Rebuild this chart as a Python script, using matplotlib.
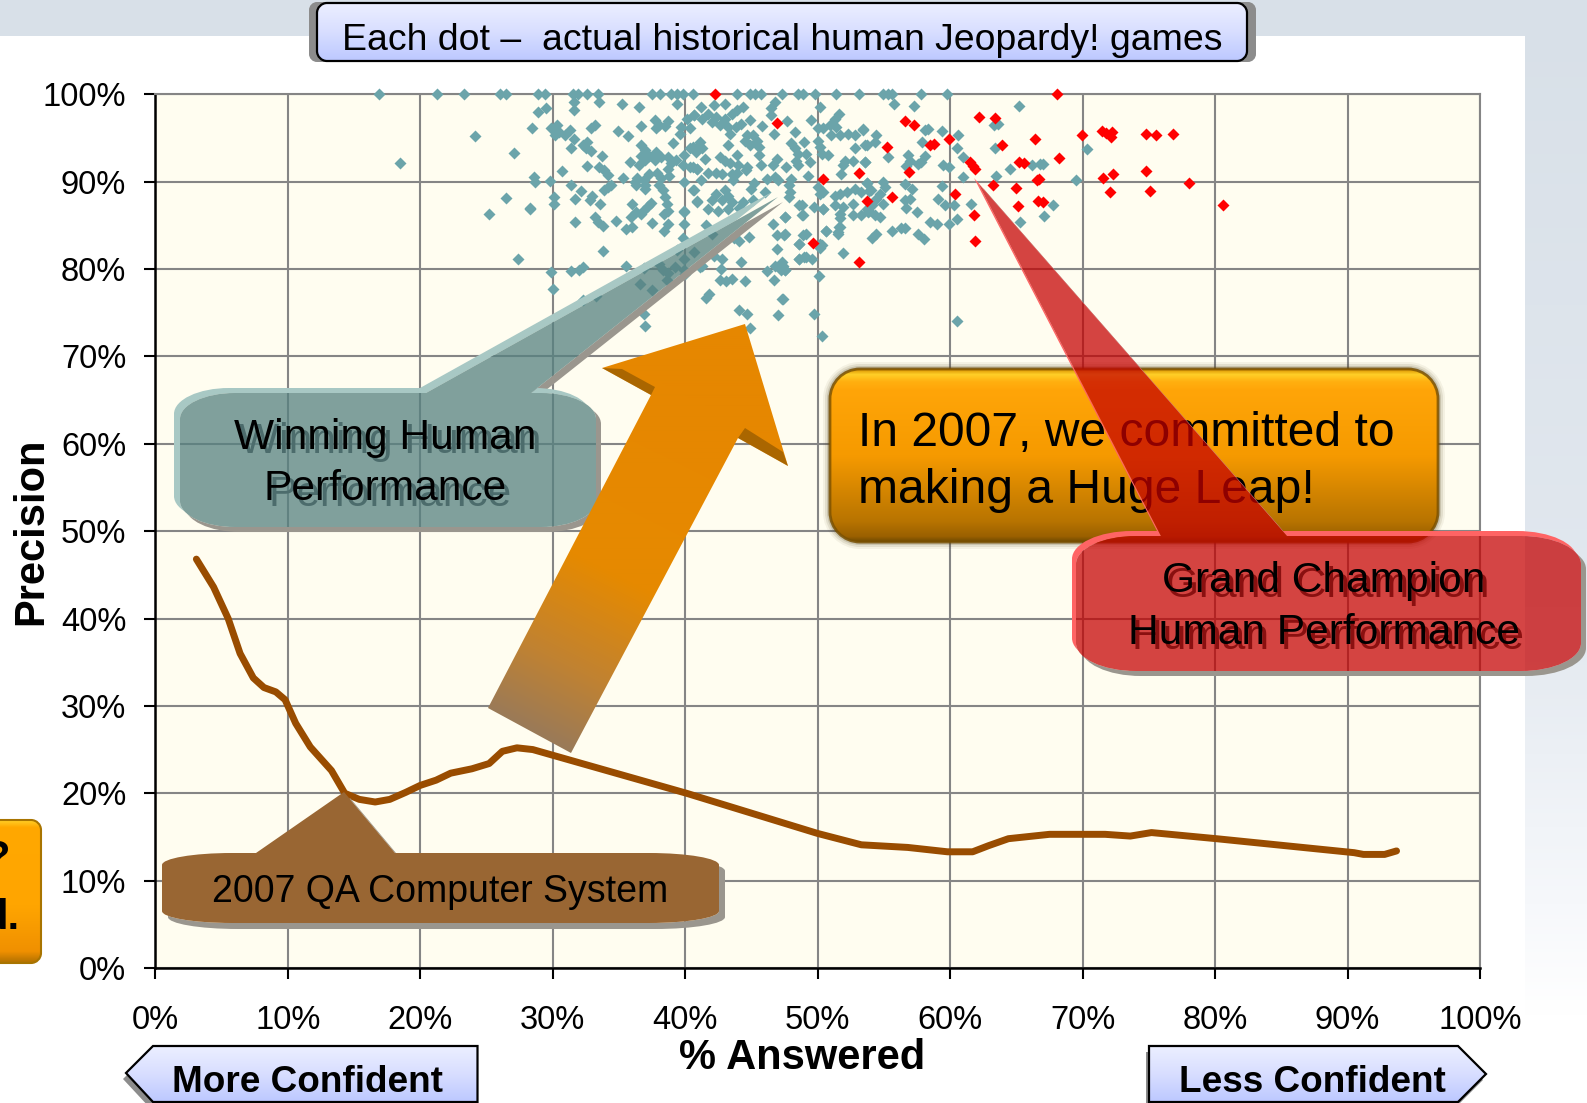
import numpy as np
import matplotlib
matplotlib.use("Agg")
import matplotlib.pyplot as plt
from matplotlib.path import Path
from matplotlib.patches import PathPatch, Rectangle
from matplotlib.colors import to_rgb

plt.rcParams['font.family'] = ['Liberation Sans', 'DejaVu Sans']

# ---------- data (percent) ----------
ticks = list(range(0, 101, 10))
tick_labels = [f"{t}%" for t in ticks]

curve_answered = [3.1,4.4,5.5,6.4,7.4,8.2,9.1,9.8,10.6,11.7,13.3,14.3,15.4,16.6,17.7,18.9,20,21.2,22.3,23.9,25.2,26.2,27.3,28.5,40.1,50,53.3,56.8,59.8,61.7,62.9,64.4,67.5,71.7,73.6,75.2,80.1,90.5,91.2,92.8,93.7]
curve_precision = [46.8,43.6,40,36,33.2,32.1,31.6,30.7,28,25.3,22.6,20,19.3,19,19.3,20.1,20.9,21.5,22.3,22.8,23.4,24.8,25.2,25,20,15.4,14.1,13.8,13.3,13.3,14,14.8,15.3,15.3,15.1,15.5,14.8,13.2,13,13,13.4]

winning_top_x = [16.9,21.3,23.3,26,26.5,28.9,29.4,31.5,31.9,32.6,33.4,37.5,38.1,38.9,39.4,39.8,40.6,43.9,44.9,45.3,45.7,47.3,48.5,48.9,49.8,51.4,53.1,54.9,55.3,55.6,57.8,59.8]

winning_left = [(31.6,99.1),(31.6,98.2),(33.5,99.1),(29.5,98.4),(28.9,98),(35.2,98.9),(36.5,98.5),(39.4,98.9),
 (28.4,96.1),(29.9,96.1),(30.3,96.5),(30.5,95.7),(30.2,95.3),(30.9,95.3),(31.3,95.9),(31.6,94.9),(33.2,96.5),(32.9,96.1),(34.9,95.8),(35.7,95.2),(36.7,96.4),(37.7,97.1),(37.8,96.1),(38,96.5),(38.7,96.9),(38.5,96.4),(39.7,96.3),(39.6,95.5),(39.1,94.4),(40.1,97.2),(40.7,97.6),(40.4,96.1),
 (31.4,93.8),(32.3,94.2),(32.6,94.5),(32.5,93.8),(32.9,93.5),(33.7,92.9),(32.6,91.8),(33.5,91.7),(33.9,91.3),(34.2,90.8),(30.7,91.2),(35.8,92.3),
 (36.7,94.2),(37,93.6),(36.7,92.9),(37.3,92.9),(37.8,93.4),(37.7,92.5),(36.5,91.9),(37,92.5),(38.2,92.8),(38.7,92.8),(38.9,92.1),(39.3,92.5),(39.9,93),(40.4,93.8),(40.9,94),(39.8,91.9),(40.4,91.7),(40.9,91.5),(38.7,91.5),(37.3,90.9),(37.9,91),(38.2,90.4),(38.8,90.7),(36.4,90.4),(36.9,90.2),(35.3,90.4),(28.6,90.5),(28.7,90),(29.8,90.1),(39.9,90),
 (31.4,89.6),(32.1,88.9),(31.7,88),(32.8,87.9),(33,88.4),(33.6,87.4),(34.2,89.4),(33.9,89),(34.4,89.6),(36.3,89.6),(36.2,90),(37,89.6),(37,89.2),(38,89.6),(38.3,89),(38.5,88.3),(38.6,87.5),(38.7,86.7),(36,87.5),(36.3,86.5),(36.8,86.7),(37.4,87.6),(37.2,87.2),(40.6,89.1),(40.9,87.8),(39.9,86.6),(30.1,88.3),(30.1,87.5),(28.3,86.9),
 (24.1,95.2),(18.5,92.1),(27.1,93.3),(26.5,88.1),(25.2,86.3),(28.3,87),(27.4,81.2)]

winning_low_left = [(31.7,85.4),(33.2,86),(33.4,85.4),(33.8,84.9),(34.8,85.5),(35.5,84.6),(36,84.8),(35.9,86),(36.7,86.3),(37.5,85.3),(38.4,86.3),(38.7,85.2),(38.4,84.4),(39.9,85.1),(39.9,86.5),(39.8,83.5),(39.4,82.2),(40.7,82),(33.8,82.1),(35.5,80.4),(36.9,80.1),(38,80.6),(38.3,79.9),(38.7,79.5),(39.2,80.2),(39.9,81.2),(41.1,80.2),(29.9,79.7),(31.4,79.8),(32,79.9),(32.3,80.2),(30,77.7),(32.3,76.5),(33.3,76.9),(36.6,78.3),(37.5,77.6),(40,79.4),(36.9,74.8),(37,73.5),(38.6,78.7),(39.9,79.9)]

winning_mid = [(42.2,98.8),(43,98.9),(41.2,98.5),(46.8,99.1),(46.5,98.4),(46.5,97.6),(44.4,98.5),(43.9,98.2),(40.7,97.6),(41.7,97.8),(41.3,97.2),(42,96.8),(42.3,97.4),(43,97.2),(43.5,97.8),(42.6,96.5),(43.2,96.3),(43.8,96.3),(44.2,96.6),(44.9,97.1),(45.8,96.4),(47.7,97),(43.4,95.4),(46.7,95.5),(48.3,95.7),(49.5,97.1),(50.2,98.6),
 (44.7,95.3),(45.1,95.3),(45.4,94.7),(44.5,94.7),(44.9,94.2),(45.6,94),(43.2,94.2),(45.6,93.1),(41.1,94.5),(40.6,94),(41.3,93.8),(40.8,93.4),(41.5,92.6),(42.6,92.8),(43,92.4),(43.9,93),(43.4,92.1),(44,91.9),(44.7,91.7),(45.7,91.9),(46.9,92.6),(46.6,91.9),(47.6,91.7),(48,94.4),(48.3,93.8),(48.5,93.2),(48.4,92.4),(48.5,91.9),(49,94.5),(49.1,93.2),(49.4,92.2),(50,96.1),(50.4,96.1),(50.9,96.5),(51.3,97.2),(51.6,97.7),(51.4,96.3),(51,95.3),(51.7,95.3),(52.3,95.4),(52.8,95.3),(53.4,96),(53.7,94.2),(52.8,93.8),(50,94.7),(50.2,94),(50.3,93.2),(50.8,93),(53.6,92.3),(52.1,92.4),(52.7,92.4),(51.9,91.9),(51.8,90.9),(40.6,91.7),(40.9,91.5),(41.7,91),(42.3,91),(42.8,90.9),(43.5,90.9),(43.9,91),(44.6,91.3),(43.6,90.2),(41.2,90.2),(46.8,90.5),(47,90.2),(46.2,90.3),(48,90.3),(49.3,90.7),(45.2,89.8),(50,89.4),(50.4,88.8),(50.2,88.6),(53.7,89.8),(47.8,89.6),(47.9,88.8),(47.8,88.3),(46,88.8),(45,89.2),(45.1,87.9),(44.4,87.7),(40.7,89.1),(40.9,87.7),(42.3,88.6),(43,89),(43.2,88.4),(42,87.9),(42.8,87.9),(43.5,87.7),(41.7,86.9),(42.5,86.7),(43.2,86.9),(44.1,87),(51.3,88.4),(51.7,88.6),(52.2,88.8),(52.8,89.2),(53.3,88.8),(54,89),(52.7,87.5),(51.9,87.1),(51.3,87.3),(53.7,86.9),(48.6,87.3),(49.7,87.1),(50.4,86.9)]

winning_right = [(55.8,98.9),(57.3,98.7),(65.2,98.7),(63.3,96.5),(63.6,96.6),(53.4,95.9),(54.4,95.3),(54.3,94.5),(53.6,94.2),(55.3,92.8),(53.6,92.3),(58.1,95.9),(58.3,96),(59.4,95.8),(60.6,95.3),(57.9,94.5),(60.5,93.8),(63.4,93.9),(56.8,93),(57,92.4),(56.7,91.8),(58.1,92.9),(57.8,92.3),(57.6,92),(59.5,91.9),(59.9,91.7),(61,92.8),(64.5,91.5),(63.5,90.7),(61,90.5),(66.2,91.9),(66.8,92),
 (53.7,89.8),(53.9,88.9),(54.9,90),(55.1,89.4),(54.7,88.6),(54.4,88),(54.9,87.5),(56.6,89.7),(57.1,89.2),(59.4,89.5),(56.6,87.9),(57,88),(56.7,87),(57.5,86.5),(59.1,88),(59.6,87.3),(60.3,87.3),(61.6,87.5),(54.1,87.3),(53.8,86.5),
 (67,92),(67.8,87.3),(67.1,86.1),(65.3,85.4),(69.5,90.2),(70.3,93.7),(58.5,85.4),(59,85.2),(59.9,85.1),(60.5,85.7),(56.3,84.7),(56.6,84.7),(55.6,84.3),(54.4,84),(54.1,83.5),(57.6,84),(58,83.4),(51.9,81.8),(50.6,84.4),(51.6,84.8),(51.5,84),(48.9,83.9),(48.6,82.9),(50.2,82.9),(50.2,82.4),(48.6,81.2),(49.1,81.4),(49.6,81.1),(50.1,79.2),(47.4,76.6),(49.7,74.8),(50.3,72.3),(60.5,74.1),(47.45,83.9),(47.5,86),(48.8,87.3),(48.9,86.2),(50.4,86.9),(51.7,86.3),(51.7,85.8),(52.7,86.2),(53.3,86.2),(53.9,86.7),(54.7,86),(54.3,86.2),(47.25,79.9),(47.4,80.3),(47.5,79.9)]

winning_low_mid = [(41.6,85),(42,84),(43.7,83.5),(44.1,83.2),(44.8,83.7),(46.6,85.2),(47.5,86),(48.8,86.2),(46.9,83.9),(47.5,84),(46.9,82.3),(49.1,84),(48.6,82.9),(50.3,82.7),(50.6,84.4),(51.5,84.2),(51.7,84.8),(42.8,81.2),(42.2,81.5),(44.2,80.8),(41.3,80.4),(42.7,80),(47.3,80.8),(46.8,80.3),(46.2,79.8),(47.5,79.9),(48.6,81.1),(49,81.4),(46.7,78.8),(42.6,78.7),(43.1,78.6),(43.5,78.9),(44.5,78.6),(41.6,76.7),(41.8,77.2),(47.3,76.6),(44.1,75.3),(44.7,74.8),(47,74.7),(44.9,73.3)]

champion_games = [(68.08,100),(42.25,100),(46.9,96.7),(62.15,97.4),(63.39,97.3),(56.6,97),(57.26,96.5),(69.92,95.3),(71.5,95.8),(71.76,95.6),(72.2,95.7),(72.16,95.1),(74.8,95.4),(75.54,95.3),(76.83,95.4),(66.44,94.9),(63.94,94.2),(59.91,94.85),(55.2,94),(58.5,94.2),(58.77,94.3),(68.2,92.75),(61.52,92.2),(61.72,91.75),(61.9,91.5),(65.2,92.25),(65.6,92.1),(53.1,91),(56.9,91.15),(74.8,91.26),(50.4,90.35),(72.3,90.9),(71.55,90.45),(66.7,90.35),(66.54,90.15),(78.04,89.85),(63.2,89.6),(65,89.25),(72.1,88.86),(75.06,88.98),(60.36,88.6),(53.7,87.8),(55.6,88.2),(66.6,87.8),(67,87.7),(65.1,87.2),(80.63,87.34),(61.8,86.2),(49.65,83.03),(61.9,83.25),(53.1,80.8)]

# ---------- figure ----------
W, H = 1587, 1103
fig = plt.figure(figsize=(W/100, H/100), dpi=100, facecolor='white')

def lerp_stops(t, stops):
    ps = [s[0] for s in stops]
    cs = np.array([to_rgb(s[1]) for s in stops])
    return np.stack([np.interp(t, ps, cs[:, i]) for i in range(3)], axis=-1)

def make_ax(z):
    a = fig.add_axes([0, 0, 1, 1], zorder=z)
    a.set_xlim(0, W); a.set_ylim(H, 0); a.axis('off'); a.patch.set_alpha(0)
    a.set_autoscale_on(False)
    return a

bg = make_ax(0)
bg.add_patch(Rectangle((0, 0), W, 35.5, color='#D8E0E8', lw=0))
ys = np.linspace(0, 1, 300)[:, None]
bg.imshow(lerp_stops(ys, [(0, '#D8E0E8'), (.55, '#E2E8EF'), (.82, '#F6F8FB'), (.92, '#FFFFFF'), (1, '#FFFFFF')]).reshape(300, 1, 3),
          extent=[1525, W, H, 0], aspect='auto', zorder=1)
bg.set_xlim(0, W); bg.set_ylim(H, 0)

# chart axes
x0p, x1p, y100, y0p = 155.3, 1480, 94.3, 968
ax = fig.add_axes([x0p/W, 1-y0p/H, (x1p-x0p)/W, (y0p-y100)/H], zorder=2)
ax.set_facecolor('#FFFDF0')
ax.set_xlim(0, 100); ax.set_ylim(0, 100)
ax.set_xticks(ticks); ax.set_yticks(ticks)
ax.set_xticklabels(tick_labels, fontsize=23.5); ax.set_yticklabels(tick_labels, fontsize=23.5)
ax.grid(True, color='#858585', lw=1.5, zorder=1)
ax.set_axisbelow(True)
ax.tick_params(axis='x', length=8, width=1.5, pad=18.5, color='black')
ax.tick_params(axis='y', length=8, width=1.5, pad=13, color='black')
for s in ('top', 'right'):
    ax.spines[s].set_color('#858585'); ax.spines[s].set_linewidth(1.5)
for s in ('left', 'bottom'):
    ax.spines[s].set_color('black'); ax.spines[s].set_linewidth(1.8)
ax.set_xlabel('% Answered', fontsize=30, fontweight='bold', va='center')
ax.xaxis.set_label_coords((802.6-x0p)/(x1p-x0p), -(1058-y0p)/(y0p-y100))
ax.set_ylabel('Precision', fontsize=30, fontweight='bold', va='center')
ax.yaxis.set_label_coords((31-x0p)/(x1p-x0p), (y0p-531)/(y0p-y100))

teal = np.array([(x, 100) for x in winning_top_x] + winning_left + winning_low_left + winning_mid + winning_right + winning_low_mid)
red = np.array(champion_games)
ax.plot(teal[:, 0], teal[:, 1], ls='', marker='D', ms=6.4, mfc='#6BA4AA', mec='none', clip_on=False, zorder=3)
ax.plot(red[:, 0], red[:, 1], ls='', marker='D', ms=6.4, mfc='#FF0000', mec='none', clip_on=False, zorder=4)
ax.plot(curve_answered, curve_precision, color='#994C00', lw=5, solid_capstyle='round', solid_joinstyle='round', zorder=5)

# ---------- overlay shapes ----------
ov = make_ax(5)
K = 0.5523

def bubble(x0, y0, x1, y1, rx, ry, tip=None, a=None, b=None):
    V = [(x0+rx, y0)]; C = [Path.MOVETO]
    if tip is not None:
        V += [(a, y0), tip, (b, y0)]; C += [Path.LINETO]*3
    V += [(x1-rx, y0)]; C += [Path.LINETO]
    V += [(x1-rx+K*rx, y0), (x1, y0+ry-K*ry), (x1, y0+ry)]; C += [Path.CURVE4]*3
    V += [(x1, y1-ry)]; C += [Path.LINETO]
    V += [(x1, y1-ry+K*ry), (x1-rx+K*rx, y1), (x1-rx, y1)]; C += [Path.CURVE4]*3
    V += [(x0+rx, y1)]; C += [Path.LINETO]
    V += [(x0+rx-K*rx, y1), (x0, y1-ry+K*ry), (x0, y1-ry)]; C += [Path.CURVE4]*3
    V += [(x0, y0+ry)]; C += [Path.LINETO]
    V += [(x0, y0+ry-K*ry), (x0+rx-K*rx, y0), (x0+rx, y0)]; C += [Path.CURVE4]*3
    return Path(V, C)

def shifted(path, dx, dy):
    return Path(path.vertices + np.array([dx, dy]), path.codes)

def outside_clip(main):
    v = main.vertices
    area = 0.5*np.sum(v[:-1, 0]*v[1:, 1]-v[1:, 0]*v[:-1, 1])
    rect = [(-50, -50), (W+50, -50), (W+50, H+50), (-50, H+50)]
    if area > 0:
        rect = rect[::-1]
    outer = Path(rect+[rect[0]], [Path.MOVETO, Path.LINETO, Path.LINETO, Path.LINETO, Path.CLOSEPOLY])
    return Path.make_compound_path(outer, main)

def callout(main, color, alpha, hi=None, hi_off=(0, 0), sh='#9A968E', sh_off=(5, 5), z=1):
    clip = PathPatch(outside_clip(main), transform=ov.transData)
    if sh:
        p = PathPatch(shifted(main, *sh_off), fc=sh, ec='none', zorder=z)
        ov.add_patch(p); p.set_clip_path(clip)
    if hi:
        p = PathPatch(shifted(main, *hi_off), fc=hi, ec='none', zorder=z)
        ov.add_patch(p); p.set_clip_path(clip)
    ov.add_patch(PathPatch(main, fc=color, alpha=alpha, ec='none', zorder=z+.1))

def grad(path, stops, p0, p1, z):
    vv = path.vertices
    x0, y0 = vv.min(axis=0); x1, y1 = vv.max(axis=0)
    gx, gy = np.meshgrid(np.linspace(x0, x1, 300), np.linspace(y0, y1, 300))
    d = np.array(p1)-np.array(p0)
    t = ((gx-p0[0])*d[0]+(gy-p0[1])*d[1])/(d @ d)
    im = ov.imshow(lerp_stops(np.clip(t, 0, 1), stops), extent=[x0, x1, y1, y0], aspect='auto', zorder=z, interpolation='bilinear')
    im.set_clip_path(PathPatch(path, transform=ov.transData))
    ov.set_xlim(0, W); ov.set_ylim(H, 0)

def stext(x, y, s, fs, shadow, off=(4, 5), **kw):
    if shadow:
        ov.text(x+off[0], y+off[1], s, fontsize=fs, color=shadow, ha='center', va='center', zorder=kw.get('zorder', 20)-.5)
    ov.text(x, y, s, fontsize=fs, color='black', ha='center', va='center', zorder=kw.get('zorder', 20))

# teal callout
teal_main = bubble(180, 393, 596, 527, 55, 26, tip=(778, 197), a=426, b=531)
callout(teal_main, '#568180', .75, hi='#A8C8C4', hi_off=(-6, -5), sh='#9A968E', sh_off=(5, 5), z=1)
stext(385, 437.5, 'Winning Human', 30.6, '#4C6C6C', off=(5, 5))
stext(385, 488.5, 'Performance', 30.6, '#4C6C6C', off=(5, 6))

# brown callout
brown_main = bubble(162, 853, 719, 923, 70, 12, tip=(344, 792), a=256, b=395)
callout(brown_main, '#996633', 1, sh='#9A968E', sh_off=(6, 6), z=2)
stext(440, 892, '2007 QA Computer System', 27, None)

# big arrow
arrow = Path([(488, 708), (571, 753), (738, 438), (788, 466), (745, 324), (602, 368), (651, 395), (488, 708)],
             [Path.MOVETO]+[Path.LINETO]*6+[Path.CLOSEPOLY])
grad(arrow, [(0, '#E68700'), (.52, '#E68A00'), (.8, '#C08232'), (1, '#9A7A58')], (694, 400), (530, 730), 3)
for pts in ([(602, 368), (651, 395), (655, 387), (622, 369)], [(738, 438), (788, 466), (783, 452), (745, 428)]):
    ov.add_patch(plt.Polygon(pts, fc='#7A4C00', ec='none', alpha=.55, zorder=3.1))

# orange box
ob = bubble(830, 369, 1438, 542, 30, 30)
for grow, al in ((7, .06), (5, .1), (3, .16), (1.5, .25)):
    ov.add_patch(PathPatch(bubble(830-grow, 369-grow, 1438+grow, 542+grow, 30+grow, 30+grow), fc='#4A3A10', ec='none', alpha=al, zorder=4))
grad(ob, [(0, '#D89000'), (.03, '#FFD028'), (.07, '#FFB010'), (.12, '#FFA508'), (.5, '#F69A00'), (.88, '#B87400'), (.97, '#9A6000'), (1, '#6E4A00')], (0, 369), (0, 542), 5)
ov.add_patch(PathPatch(ob, fc='none', ec='#7A5000', lw=2, alpha=.8, zorder=5.1))
ov.text(858, 434, 'In 2007, we committed to', fontsize=34.6, color='black', ha='left', va='center', zorder=5.2)
ov.text(858, 490.5, 'making a Huge Leap!', fontsize=34.6, color='black', ha='left', va='center', zorder=5.2)

# red callout
red_main = bubble(1076, 536, 1581, 671, 60, 28, tip=(978, 183), a=1161, b=1287)
callout(red_main, '#C40000', .73, hi='#FF6464', hi_off=(-4, -5), sh='#9A968E', sh_off=(5, 5), z=6)
stext(1324, 581, 'Grand Champion', 30.6, '#8A1010', off=(4, 5), zorder=8)
stext(1324, 633, 'Human Performance', 30.6, '#8A1010', off=(4, 5), zorder=8)

# left clipped orange box
lb = bubble(-30, 820, 41, 963, 10, 10)
grad(lb, [(0, '#FFD028'), (.05, '#FFA800'), (.6, '#FFA500'), (.92, '#F09000'), (1, '#B07000')], (0, 820), (0, 963), 9)
ov.add_patch(PathPatch(lb, fc='none', ec='#A87400', lw=1.5, zorder=9.1))
ov.text(9, 859, '?', fontsize=30, fontweight='bold', ha='right', va='center', zorder=9.2, clip_on=True)
ov.text(19, 918, 'd.', fontsize=30, fontweight='bold', ha='right', va='center', zorder=9.2, clip_on=True)

# top banner
BLUE = [(0, '#ECEFFF'), (.5, '#D8DEFF'), (1, '#BCC8FF')]
ban_sh = bubble(309, 2, 1256, 62, 8, 8)
ov.add_patch(PathPatch(ban_sh, fc='#8C8C8C', ec='none', zorder=10))
ban = bubble(317, 3, 1247, 61, 10, 10)
grad(ban, BLUE, (0, 3), (0, 61), 11)
ov.add_patch(PathPatch(ban, fc='none', ec='black', lw=1.6, zorder=11.1))
ov.text(782, 41, 'Each dot \u2013  actual historical human Jeopardy! games', fontsize=26.9, ha='center', va='center', zorder=12)

# confidence arrows
def tag(pts, sh_off, z=13):
    p = Path(pts+[pts[0]], [Path.MOVETO]+[Path.LINETO]*(len(pts)-1)+[Path.CLOSEPOLY])
    ov.add_patch(PathPatch(shifted(p, *sh_off), fc='#8C8C8C', ec='none', zorder=z))
    grad(p, BLUE, (0, 1046), (0, 1102), z+.1)
    ov.add_patch(PathPatch(p, fc='none', ec='black', lw=1.6, zorder=z+.2))

tag([(153, 1046), (477.5, 1046), (477.5, 1102), (153, 1102), (126, 1073)], (-3, 6))
tag([(1149, 1046), (1458, 1046), (1486, 1074), (1458, 1102), (1149, 1102)], (-3, 6))
ov.text(308, 1083, 'More Confident', fontsize=26.6, fontweight='bold', ha='center', va='center', zorder=14)
ov.text(1312, 1083, 'Less Confident', fontsize=26.6, fontweight='bold', ha='center', va='center', zorder=14)

fig.savefig('out.png', dpi=100)
